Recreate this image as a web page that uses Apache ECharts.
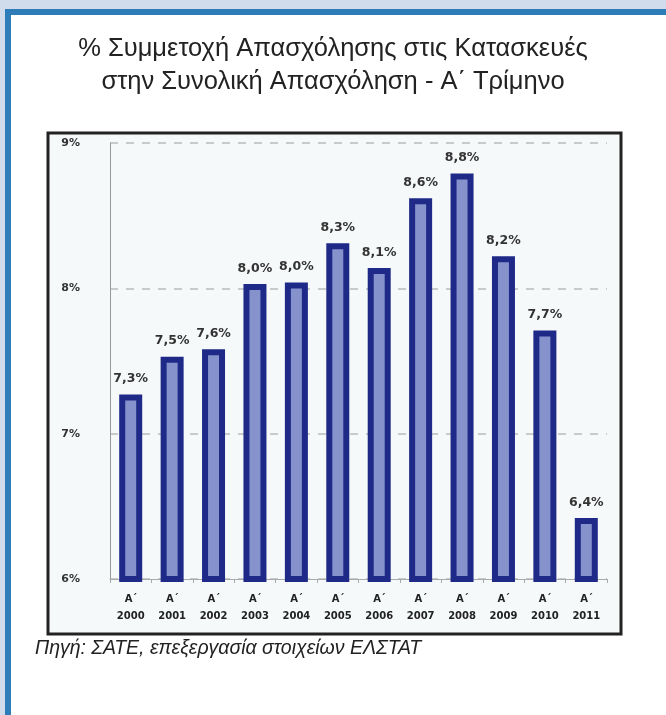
<!DOCTYPE html>
<html lang="el">
<head>
  <meta charset="UTF-8">
  <title>Συμμετοχή Απασχόλησης στις Κατασκευές</title>
  <script src="https://cdn.jsdelivr.net/npm/echarts@6/dist/echarts.min.js"></script>
  <style>
    html, body { margin: 0; padding: 0; background: #d0dbec; }
  </style>
</head>
<body>
<div id="main" style="width:666px;height:715px;"></div>
<script type="text/javascript">
  // Α΄ τρίμηνο κάθε έτους
  var years = ['2000', '2001', '2002', '2003', '2004', '2005', '2006', '2007', '2008', '2009', '2010', '2011'];
  // % συμμετοχή (ύψος στηλών όπως διαβάζεται από το γράφημα)
  var shares = [7.27, 7.53, 7.58, 8.03, 8.04, 8.31, 8.14, 8.62, 8.79, 8.22, 7.71, 6.42];
  var yTicks = [6, 7, 8, 9];

  var chartDom = document.getElementById('main');
  var myChart = echarts.init(chartDom);
  var option;

  option = {
    animation: false,
    title: {
      text: '% Συμμετοχή Απασχόλησης στις Κατασκευές\nστην Συνολική Απασχόληση - Α΄ Τρίμηνο',
      left: 'center',
      top: 27,
      textStyle: {
        fontFamily: 'Liberation Sans, sans-serif',
        fontSize: 25.5,
        fontWeight: 'normal',
        color: '#222',
        lineHeight: 33
      }
    },
    graphic: [
      // πλαίσιο σελίδας
      { type: 'rect', z: -10, shape: { x: 5, y: 9, width: 661, height: 706 }, style: { fill: '#2f7db8' } },
      { type: 'rect', z: -9, shape: { x: 11, y: 15, width: 655, height: 700 }, style: { fill: '#ffffff' } },
      // πλαίσιο γραφήματος
      { type: 'rect', z: -8, shape: { x: 48, y: 133, width: 573, height: 501 },
        style: { fill: '#f6f9f9', stroke: '#222', lineWidth: 3 } },
      {
        type: 'text', z: 5, left: 35, top: 639,
        style: {
          text: 'Πηγή: ΣΑΤΕ, επεξεργασία στοιχείων ΕΛΣΤΑΤ',
          font: 'italic 19.5px "Liberation Sans", sans-serif',
          fill: '#222'
        }
      }
    ],
    grid: { left: 110, right: 59, top: 143, bottom: 136 },
    xAxis: {
      type: 'category',
      data: years,
      axisLine: { lineStyle: { color: '#aaa', width: 1 } },
      axisTick: { show: true, length: 4, lineStyle: { color: '#aaa' } },
      axisLabel: {
        margin: 12,
        formatter: function (v) { return 'Α΄\n' + v; },
        fontFamily: 'DejaVu Sans',
        fontSize: 10,
        fontWeight: 'bold',
        color: '#222',
        lineHeight: 17
      }
    },
    yAxis: {
      type: 'value',
      min: yTicks[0],
      max: yTicks[yTicks.length - 1],
      interval: 1,
      axisLine: { show: true, lineStyle: { color: '#999', width: 1 } },
      axisTick: { show: false },
      splitLine: { lineStyle: { color: '#bbb', type: [8, 8], width: 1.5 } },
      axisLabel: {
        margin: 30,
        formatter: function (v) { return v + '%'; },
        fontFamily: 'DejaVu Sans',
        fontSize: 11,
        fontWeight: 'bold',
        color: '#333'
      }
    },
    series: [
      {
        type: 'bar',
        data: shares,
        barWidth: 23,
        itemStyle: { color: '#8592cc', borderColor: '#1f2a88', borderWidth: 6 },
        label: {
          show: true,
          position: 'top',
          distance: 9,
          formatter: function (p) { return p.value.toFixed(1).replace('.', ',') + '%'; },
          fontFamily: 'DejaVu Sans',
          fontSize: 12.5,
          fontWeight: 'bold',
          color: '#333'
        }
      }
    ]
  };

  option && myChart.setOption(option);
</script>
</body>
</html>
